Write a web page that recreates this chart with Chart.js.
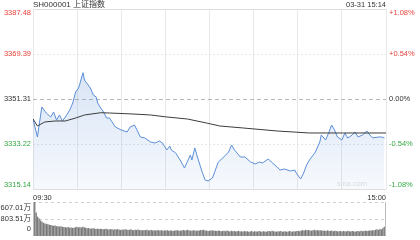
<!DOCTYPE html>
<html>
<head>
<meta charset="utf-8">
<script src="https://cdn.jsdelivr.net/npm/chart.js@4/dist/chart.umd.min.js"></script>
<style>
  html, body { margin: 0; padding: 0; background: #fff; }
  #wrap { position: relative; width: 420px; height: 240px; overflow: hidden; }
  canvas { position: absolute; left: 0; }
</style>
</head>
<body>
<div id="wrap">
  <canvas id="price" width="420" height="192" style="top:0"></canvas>
  <canvas id="vol" width="420" height="50" style="top:190px"></canvas>
</div>
<script>
// minute index from 09:30 (0) to 15:00 (240)
const priceMinutes = [0, 3, 6, 9, 12, 14, 16, 18, 20, 22, 25, 27, 29, 31, 32, 34, 35, 37, 39, 41,
  43, 44, 46, 48, 50, 52, 56, 60, 64, 66, 69, 73, 76, 80, 83, 86, 88, 91, 93, 94,
  97, 100, 103, 107, 108, 110, 112, 115, 117, 119, 122, 124, 126, 129, 131, 133, 135, 137, 141, 144,
  148, 151, 154, 156, 160, 162, 166, 168, 171, 175, 178, 179, 182, 184, 186, 188, 190, 192, 195, 196,
  199, 201, 203, 205, 207, 210, 212, 214, 217, 219, 221, 224, 227, 229, 231, 235, 237, 239];
const prices = [3343.27, 3336.04, 3348.09, 3345.68, 3344.08, 3346.08, 3342.87, 3344.88, 3342.47, 3344.08,
  3346.89, 3349.70, 3354.12, 3355.73, 3357.74, 3361.88, 3358.95, 3357.34, 3355.73, 3352.92,
  3352.11, 3349.70, 3347.69, 3346.08, 3343.67, 3343.67, 3340.06, 3338.85, 3338.05, 3340.06,
  3340.86, 3336.04, 3335.64, 3334.03, 3333.63, 3334.43, 3333.63, 3330.82, 3332.42, 3330.82,
  3329.61, 3326.80, 3323.58, 3328.80, 3326.80, 3331.62, 3327.60, 3321.97, 3318.76, 3318.35,
  3319.56, 3322.77, 3325.99, 3327.60, 3328.80, 3330.01, 3332.82, 3330.82, 3328.00, 3328.00,
  3325.99, 3325.19, 3325.99, 3325.59, 3327.20, 3325.99, 3323.98, 3322.77, 3323.18, 3322.37,
  3322.77, 3321.57, 3319.16, 3321.57, 3324.78, 3326.80, 3328.40, 3330.01, 3334.03, 3336.84,
  3334.83, 3337.65, 3340.86, 3338.85, 3336.04, 3334.83, 3337.65, 3335.64, 3336.84, 3338.05,
  3336.04, 3336.84, 3338.45, 3336.84, 3335.64, 3336.04, 3336.04, 3335.64];

const avgMinutes = [0, 3, 8, 15, 22, 29, 35, 46, 52, 68, 80, 91, 105, 118, 127, 143, 166, 188, 211, 240];
const avgPrices = [3343.27, 3340.46, 3342.07, 3342.47, 3342.47, 3343.67, 3344.88, 3345.80, 3345.68, 3345.28,
  3344.88, 3344.08, 3343.27, 3341.66, 3340.46, 3339.65, 3338.45, 3337.65, 3337.65, 3337.65];

// volume per minute, 万
const volumes = [1600,
  1090, 900, 810, 720, 660, 610, 580, 560, 540, 520,
  500, 480, 470, 480, 450, 440, 430, 440, 420, 410,
  400, 390, 410, 380, 390, 370, 380, 400, 420, 390,
  410, 380, 420, 400, 370, 350, 360, 340, 330, 350,
  340, 320, 330, 310, 330, 320, 300, 310, 330, 300,
  290, 310, 300, 280, 300, 290, 310, 280, 270, 290,
  280, 300, 290, 270, 280, 300, 270, 260, 280, 270,
  290, 260, 270, 250, 270, 260, 280, 250, 260, 270,
  250, 260, 240, 270, 250, 240, 260, 230, 250, 240,
  260, 230, 250, 240, 220, 250, 240, 260, 230, 240,
  250, 270, 240, 260, 280, 250, 240, 230, 260, 240,
  230, 250, 240, 270, 260, 280, 250, 240, 220, 230,
  260, 240, 250, 230, 220, 240, 230, 210, 220, 230,
  210, 240, 220, 200, 230, 210, 220, 200, 210, 230,
  200, 210, 190, 220, 200, 210, 190, 200, 220, 190,
  210, 200, 190, 220, 200, 180, 210, 200, 190, 210,
  220, 200, 230, 210, 200, 190, 210, 200, 220, 190,
  200, 210, 190, 200, 220, 200, 190, 210, 200, 220,
  230, 210, 240, 260, 250, 280, 260, 270, 250, 240,
  260, 280, 250, 270, 240, 260, 250, 230, 240, 220,
  250, 230, 220, 240, 210, 230, 220, 200, 210, 220,
  200, 220, 210, 200, 230, 210, 200, 220, 210, 190,
  210, 220, 200, 230, 210, 220, 240, 220, 230, 250,
  240, 260, 250, 280, 300, 270, 320, 300, 350, 420];

const priceTicks = [3315.14, 3333.22, 3351.31, 3369.39, 3387.48];
const pctLabels = ['-1.08%', '-0.54%', '0.00%', '+0.54%', '+1.08%'];
const timeTicks = [0, 30, 60, 90, 120, 150, 180, 210, 240];
const timeLabels = ['09:30', '15:00'];
const volTicks = [0, 803.51, 1607.01];
const volLabels = ['0', '803.51万', '607.01万'];
const title = 'SH000001 上证指数';
const stamp = '03-31 15:14';

const RED = '#e5433b';
const GREEN = '#35a845';
const GRAY = '#333';
const NUMFONT = '7.5px "Liberation Sans", Arial, sans-serif';

function tickColor(i) {
    if (i < 2) return GREEN;
    if (i === 2) return GRAY;
    return RED;
}

function hLine(ctx, area, y, color, dash) {
    ctx.save();
    ctx.strokeStyle = color;
    ctx.lineWidth = 1;
    ctx.setLineDash(dash);
    ctx.beginPath();
    ctx.moveTo(area.left, Math.round(y) + 0.5);
    ctx.lineTo(area.right, Math.round(y) + 0.5);
    ctx.stroke();
    ctx.restore();
}

const priceFrame = {
    id: 'priceFrame',
    beforeDatasetsDraw(chart) {
        const ctx = chart.ctx, a = chart.chartArea, y = chart.scales.y;
        priceTicks.forEach((v, i) => {
            const py = y.getPixelForValue(v);
            if (i === 0 || i === 4) hLine(ctx, a, py, '#dedede', []);
            else if (i === 2) hLine(ctx, a, py, '#b8b8b8', [4, 3]);
            else hLine(ctx, a, py, '#e6e6e6', [2, 2]);
        });
    },
    afterDraw(chart) {
        const ctx = chart.ctx, a = chart.chartArea, y = chart.scales.y;
        ctx.save();
        ctx.font = '8px "Liberation Sans", "Noto Sans CJK SC", sans-serif';
        ctx.fillStyle = '#333';
        ctx.textBaseline = 'middle';
        ctx.textAlign = 'left';
        ctx.fillText(title, a.left, 5);
        ctx.font = NUMFONT;
        ctx.textAlign = 'right';
        ctx.fillText(stamp, a.right, 5);
        priceTicks.forEach((v, i) => {
            let py = y.getPixelForValue(v);
            if (i === 4) py += 4;
            if (i === 0) py -= 4;
            ctx.fillStyle = tickColor(i);
            ctx.textAlign = 'right';
            ctx.fillText(v.toFixed(2), a.left - 2, py);
            ctx.textAlign = 'left';
            ctx.fillText(pctLabels[i], a.right + 3, py);
        });
        ctx.fillStyle = '#dcdcdc';
        ctx.textAlign = 'center';
        ctx.fillText('sina.com', 352, a.bottom - 5);
        ctx.restore();
    }
};

const volFrame = {
    id: 'volFrame',
    beforeDatasetsDraw(chart) {
        const ctx = chart.ctx, a = chart.chartArea, y = chart.scales.y;
        hLine(ctx, a, y.getPixelForValue(volTicks[2]), '#cfcfcf', [3, 3]);
        hLine(ctx, a, y.getPixelForValue(volTicks[1]), '#cfcfcf', [3, 3]);
        ctx.save();
        ctx.strokeStyle = '#bdbdbd';
        ctx.lineWidth = 1;
        ctx.beginPath();
        ctx.moveTo(a.left + 0.5, a.top);
        ctx.lineTo(a.left + 0.5, a.bottom);
        ctx.moveTo(a.right - 0.5, a.top);
        ctx.lineTo(a.right - 0.5, a.bottom);
        ctx.stroke();
        ctx.restore();
    },
    afterDraw(chart) {
        const ctx = chart.ctx, a = chart.chartArea, y = chart.scales.y;
        ctx.save();
        ctx.font = NUMFONT;
        ctx.fillStyle = '#333';
        ctx.textBaseline = 'middle';
        ctx.textAlign = 'left';
        ctx.fillText(timeLabels[0], a.left, 8);
        ctx.textAlign = 'right';
        ctx.fillText(timeLabels[1], a.right, 8);
        ctx.font = '7.5px "Liberation Sans", "Noto Sans CJK SC", sans-serif';
        volTicks.forEach((v, i) => {
            let py = y.getPixelForValue(v);
            if (i === 2) py += 6;
            if (i === 0) py -= 7;
            ctx.fillText(volLabels[i], a.left - 2, py);
        });
        ctx.restore();
    }
};

function fillGradient(c) {
    const a = c.chart.chartArea;
    if (!a) return 'rgba(93,143,217,0.15)';
    const g = c.chart.ctx.createLinearGradient(0, a.top, 0, a.bottom);
    g.addColorStop(0, 'rgba(93,143,217,0.34)');
    g.addColorStop(1, 'rgba(93,143,217,0.05)');
    return g;
}

new Chart(document.getElementById('price'), {
    type: 'line',
    data: {
        datasets: [
            {
                data: avgMinutes.map((m, i) => ({ x: m, y: avgPrices[i] })),
                borderColor: '#3c3c3c', borderWidth: 1, pointRadius: 0, fill: false
            },
            {
                data: priceMinutes.map((m, i) => ({ x: m, y: prices[i] })),
                borderColor: '#5b8ed8', borderWidth: 1, pointRadius: 0,
                fill: 'start', backgroundColor: fillGradient
            }
        ]
    },
    options: {
        responsive: false,
        animation: false,
        layout: { padding: { left: 33, right: 34, top: 9, bottom: 3 } },
        plugins: { legend: { display: false }, tooltip: { enabled: false } },
        scales: {
            x: {
                type: 'linear', min: 0, max: 240,
                afterBuildTicks: s => { s.ticks = timeTicks.map(v => ({ value: v })); },
                afterFit: s => { s.height = 0; },
                ticks: { display: false },
                border: { display: false },
                grid: { color: '#e8e8e8', drawTicks: false }
            },
            y: {
                display: false,
                min: priceTicks[0], max: priceTicks[4]
            }
        }
    },
    plugins: [priceFrame]
});

new Chart(document.getElementById('vol'), {
    type: 'bar',
    data: {
        datasets: [{
            data: volumes.map((v, i) => ({ x: i, y: v })),
            backgroundColor: '#7a7a7a',
            barThickness: 0.7
        }]
    },
    options: {
        responsive: false,
        animation: false,
        layout: { padding: { left: 33, right: 34, top: 12, bottom: 4 } },
        plugins: { legend: { display: false }, tooltip: { enabled: false } },
        scales: {
            x: { type: 'linear', display: false, offset: false, min: -1.2, max: 241.2 },
            y: { display: false, min: volTicks[0], max: volTicks[2] }
        }
    },
    plugins: [volFrame]
});
</script>
</body>
</html>
